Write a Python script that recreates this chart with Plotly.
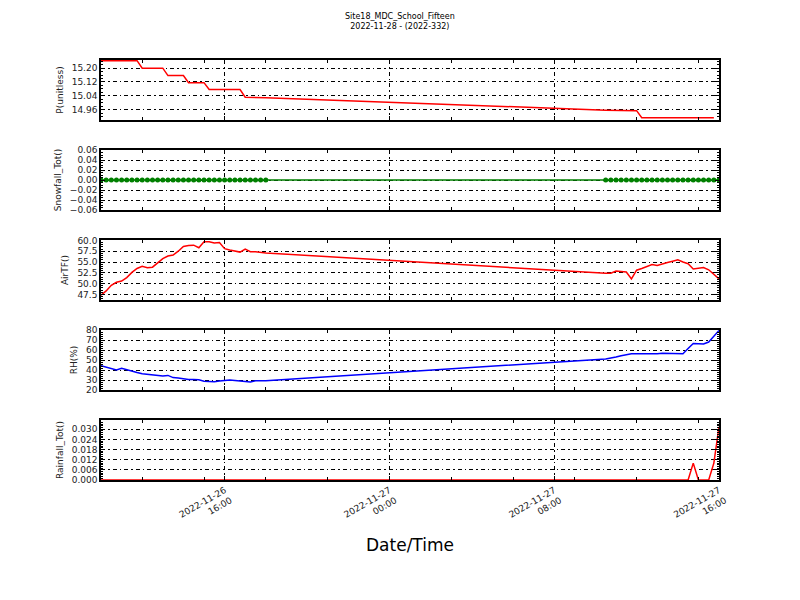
import pandas as pd
import plotly.graph_objects as go
from plotly.subplots import make_subplots

# ──────────────────────────────────────────
# Data (15-min samples, two runs with a gap overnight)
# ──────────────────────────────────────────
times_day1 = pd.date_range("2022-11-26 10:00", "2022-11-26 18:00", freq="15min")
times_day2 = pd.date_range("2022-11-27 10:30", "2022-11-27 16:00", freq="15min")
times = list(times_day1) + list(times_day2)

p_unitless = [
    15.243, 15.243, 15.243, 15.243, 15.243, 15.243, 15.243, 15.243,
    15.200, 15.200, 15.200, 15.200, 15.200, 15.157, 15.157, 15.157,
    15.157, 15.116, 15.116, 15.116, 15.116, 15.076, 15.076, 15.076,
    15.076, 15.076, 15.076, 15.076, 15.032, 15.032, 15.031, 15.030,
    15.029,
    14.957, 14.956, 14.955, 14.955, 14.954, 14.954, 14.954, 14.913,
    14.913, 14.913, 14.913, 14.913, 14.913, 14.913, 14.913, 14.913,
    14.913, 14.913, 14.913, 14.913, 14.913, 14.913,
]

snowfall_tot = [
    0.0, 0.0, 0.0, 0.0, 0.0, 0.0, 0.0, 0.0, 0.0, 0.0, 0.0,
    0.0, 0.0, 0.0, 0.0, 0.0, 0.0, 0.0, 0.0, 0.0, 0.0, 0.0,
    0.0, 0.0, 0.0, 0.0, 0.0, 0.0, 0.0, 0.0, 0.0, 0.0, 0.0,
    0.0, 0.0, 0.0, 0.0, 0.0, 0.0, 0.0, 0.0, 0.0, 0.0, 0.0,
    0.0, 0.0, 0.0, 0.0, 0.0, 0.0, 0.0, 0.0, 0.0, 0.0, 0.0, 0.0,
]

air_tf = [
    47.3, 48.3, 49.6, 50.3, 50.6, 51.4, 52.6, 53.5, 54.0, 53.7, 53.8,
    54.9, 55.8, 56.4, 56.6, 57.5, 58.6, 58.8, 58.9, 58.3, 59.7, 59.7,
    59.4, 59.5, 58.1, 57.8, 57.6, 57.3, 58.0, 57.4, 57.4, 57.3, 57.1,
    52.4, 52.4, 52.9, 52.8, 52.7, 51.1, 53.1, 53.5, 53.9, 54.4, 54.2,
    54.6, 54.9, 55.2, 55.5, 55.0, 54.6, 53.4, 53.5, 53.7, 53.2, 52.1, 51.1,
]

rh_pct = [
    44.3, 43.0, 41.5, 40.0, 41.8, 40.2, 39.3, 37.5, 36.2, 35.8, 35.2,
    34.5, 34.0, 34.6, 32.4, 31.9, 31.0, 30.6, 30.4, 30.3, 28.8, 28.2,
    28.3, 29.0, 29.7, 30.0, 29.6, 28.9, 28.5, 27.9, 29.2, 29.3, 29.3,
    51.0, 51.8, 53.0, 54.3, 55.6, 56.3, 56.3, 56.3, 56.0, 55.7, 56.2,
    56.7, 56.5, 56.3, 56.3, 56.3, 61.5, 66.5, 66.2, 66.0, 68.0, 74.0, 79.5,
]

rainfall_tot = [
    0.0, 0.0, 0.0, 0.0, 0.0, 0.0, 0.0, 0.0, 0.0, 0.0, 0.0,
    0.0, 0.0, 0.0, 0.0, 0.0, 0.0, 0.0, 0.0, 0.0, 0.0, 0.0,
    0.0, 0.0, 0.0, 0.0, 0.0, 0.0, 0.0, 0.0, 0.0, 0.0, 0.0,
    0.0, 0.0, 0.0, 0.0, 0.0, 0.0, 0.0, 0.0, 0.0, 0.0, 0.0,
    0.0, 0.0, 0.0, 0.0, 0.0, 0.0, 0.01, 0.0, 0.0, 0.0, 0.01, 0.0315,
]

x_tickvals = ["2022-11-26 16:00", "2022-11-27 00:00", "2022-11-27 08:00", "2022-11-27 16:00"]
x_ticktext = ["2022-11-26<br>16:00", "2022-11-27<br>00:00", "2022-11-27<br>08:00", "2022-11-27<br>16:00"]

# (values, axis title, colour, y range, y tick step, tick format, markers?)
panels = [
    (p_unitless, "P(unitless)", "red", [14.90, 15.247], 0.08, ".2f", False),
    (snowfall_tot, "Snowfall_Tot()", "green", [-0.06, 0.06], 0.02, ".2f", True),
    (air_tf, "AirTF()", "red", [46.2, 60.1], 2.5, ".1f", False),
    (rh_pct, "RH(%)", "blue", [20, 80], 10, "d", False),
    (rainfall_tot, "Rainfall_Tot()", "red", [0, 0.0355], 0.006, ".3f", False),
]

FONT = "DejaVu Sans"
GRID_DASH = "4px,3px,1.5px,3px"  # matplotlib-style dash-dot

fig = make_subplots(rows=5, cols=1, shared_xaxes=True, vertical_spacing=30 / 420)

for i, (vals, name, color, yr, step, fmt, markers) in enumerate(panels, start=1):
    fig.add_trace(go.Scatter(
        x=times, y=vals, mode="lines+markers" if markers else "lines",
        line=dict(color=color, width=1.5),
        marker=dict(size=5, color=color),
        showlegend=False,
    ), row=i, col=1)
    fig.update_yaxes(
        range=yr, tick0=0, dtick=step, tickformat=fmt,
        title=dict(text=name, font=dict(size=9, color="#222"), standoff=7),
        row=i, col=1,
    )

axis_common = dict(
    showline=True, linecolor="black", linewidth=1.5, mirror="allticks",
    ticks="inside", ticklen=4, tickcolor="black",
    showgrid=True, gridcolor="black", gridwidth=1, griddash=GRID_DASH,
    zeroline=False, tickfont=dict(size=9, color="#222", family=FONT),
)
fig.update_yaxes(**axis_common, minor=dict(ticks="inside", ticklen=2, tickcolor="black", nticks=6))
fig.update_xaxes(
    **axis_common,
    range=["2022-11-26 10:00", "2022-11-27 16:00"],
    tickmode="array", tickvals=x_tickvals, ticktext=x_ticktext, tickangle=-30,
    minor=dict(ticks="inside", ticklen=3, tickcolor="black",
               tick0="2022-11-26 00:00", dtick=3 * 3600 * 1000),
)

# the page body adds an 8px offset, so the figure is sized to fit inside it
fig.update_layout(
    width=784, height=584,
    margin=dict(l=93, r=73, t=52, b=112),
    paper_bgcolor="white", plot_bgcolor="white",
    font=dict(family=FONT, color="#222"),
    annotations=list(fig.layout.annotations) + [
        dict(text="Site18_MDC_School_Fifteen<br>2022-11-28 - (2022-332)",
             xref="paper", yref="paper", x=0.484, y=1 + (60 - 21.5) / 420,
             xanchor="center", yanchor="middle", showarrow=False,
             font=dict(size=8, color="black", family=FONT)),
        dict(text="Date/Time", xref="paper", yref="paper", x=0.5, y=-(545 - 480) / 420,
             xanchor="center", yanchor="middle", showarrow=False,
             font=dict(size=17, color="black", family=FONT)),
    ],
)

fig.write_html("out.html")
